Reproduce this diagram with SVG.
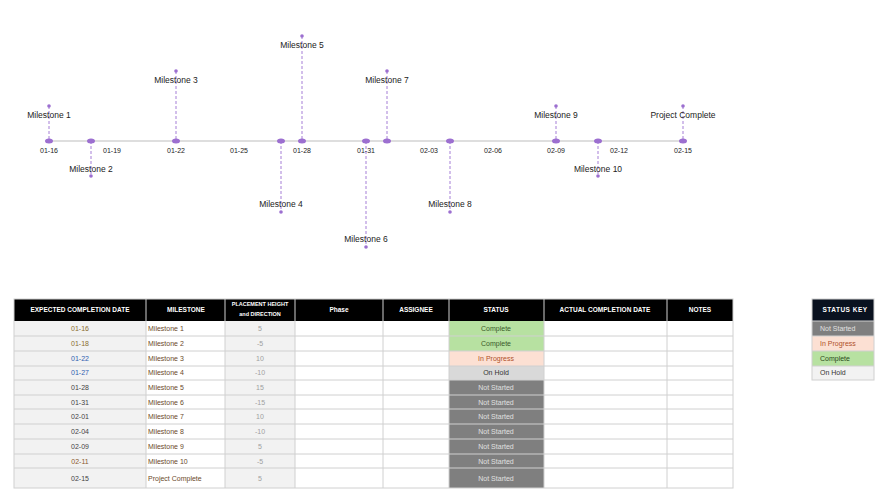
<svg xmlns="http://www.w3.org/2000/svg" width="882" height="501" viewBox="0 0 882 501">
<style>
text{font-family:"Liberation Sans",Arial,sans-serif}
.lbl{font-size:8.5px;fill:#222;text-anchor:middle}
.tick{font-size:7px;fill:#222;text-anchor:middle}
.stem{stroke:#a57fd6;stroke-width:1;stroke-dasharray:3,2}
.dot{fill:#9c6fd0}
.hd{font-size:6.5px;font-weight:bold;fill:#fff;text-anchor:middle}
.c{font-size:7px;text-anchor:middle}
.l{font-size:7px}
.grid{stroke:#d0d0d0;stroke-width:1;fill:none}
</style>
<rect width="882" height="501" fill="#fff"/>
<g id="connectors">
<line x1="49" y1="141" x2="685" y2="141" stroke="#bdbdbd" stroke-width="1.2"/>
<line class="stem" x1="49" y1="106" x2="49" y2="141"/>
<line class="stem" x1="91" y1="141" x2="91" y2="176"/>
<line class="stem" x1="176" y1="71" x2="176" y2="141"/>
<line class="stem" x1="281" y1="141" x2="281" y2="212"/>
<line class="stem" x1="302" y1="36" x2="302" y2="141"/>
<line class="stem" x1="366" y1="141" x2="366" y2="247"/>
<line class="stem" x1="387" y1="71" x2="387" y2="141"/>
<line class="stem" x1="450" y1="141" x2="450" y2="212"/>
<line class="stem" x1="556" y1="106" x2="556" y2="141"/>
<line class="stem" x1="598" y1="141" x2="598" y2="176"/>
<line class="stem" x1="683" y1="106" x2="683" y2="141"/>
</g>
<g id="axis-ticks">
<text class="tick" x="49" y="153">01-16</text><text class="tick" x="112" y="153">01-19</text><text class="tick" x="176" y="153">01-22</text><text class="tick" x="239" y="153">01-25</text><text class="tick" x="302" y="153">01-28</text><text class="tick" x="366" y="153">01-31</text><text class="tick" x="429" y="153">02-03</text><text class="tick" x="493" y="153">02-06</text><text class="tick" x="556" y="153">02-09</text><text class="tick" x="619" y="153">02-12</text><text class="tick" x="683" y="153">02-15</text>
</g>
<g id="m1"><ellipse class="dot" cx="49" cy="141" rx="4" ry="2.5"/><circle class="dot" cx="49" cy="106" r="1.8"/><text class="lbl" x="49" y="118">Milestone 1</text></g>
<g id="m2"><ellipse class="dot" cx="91" cy="141" rx="4" ry="2.5"/><circle class="dot" cx="91" cy="176" r="1.8"/><text class="lbl" x="91" y="172">Milestone 2</text></g>
<g id="m3"><ellipse class="dot" cx="176" cy="141" rx="4" ry="2.5"/><circle class="dot" cx="176" cy="71" r="1.8"/><text class="lbl" x="176" y="83">Milestone 3</text></g>
<g id="m4"><ellipse class="dot" cx="281" cy="141" rx="4" ry="2.5"/><circle class="dot" cx="281" cy="212" r="1.8"/><text class="lbl" x="281" y="207">Milestone 4</text></g>
<g id="m5"><ellipse class="dot" cx="302" cy="141" rx="4" ry="2.5"/><circle class="dot" cx="302" cy="36" r="1.8"/><text class="lbl" x="302" y="48">Milestone 5</text></g>
<g id="m6"><ellipse class="dot" cx="366" cy="141" rx="4" ry="2.5"/><circle class="dot" cx="366" cy="247" r="1.8"/><text class="lbl" x="366" y="242">Milestone 6</text></g>
<g id="m7"><ellipse class="dot" cx="387" cy="141" rx="4" ry="2.5"/><circle class="dot" cx="387" cy="71" r="1.8"/><text class="lbl" x="387" y="83">Milestone 7</text></g>
<g id="m8"><ellipse class="dot" cx="450" cy="141" rx="4" ry="2.5"/><circle class="dot" cx="450" cy="212" r="1.8"/><text class="lbl" x="450" y="207">Milestone 8</text></g>
<g id="m9"><ellipse class="dot" cx="556" cy="141" rx="4" ry="2.5"/><circle class="dot" cx="556" cy="106" r="1.8"/><text class="lbl" x="556" y="118">Milestone 9</text></g>
<g id="m10"><ellipse class="dot" cx="598" cy="141" rx="4" ry="2.5"/><circle class="dot" cx="598" cy="176" r="1.8"/><text class="lbl" x="598" y="172">Milestone 10</text></g>
<g id="m11"><ellipse class="dot" cx="683" cy="141" rx="4" ry="2.5"/><circle class="dot" cx="683" cy="106" r="1.8"/><text class="lbl" x="683" y="118">Project Complete</text></g>

<g id="table">
<rect x="14" y="299" width="719" height="22" fill="#000"/>
<rect x="14" y="321" width="132" height="167" fill="#f2f2f2"/>
<rect x="225" y="321" width="70" height="167" fill="#f2f2f2"/>
<rect x="449" y="321" width="95" height="30" fill="#b7e1a1"/>
<rect x="449" y="351" width="95" height="15" fill="#fce0d3"/>
<rect x="449" y="366" width="95" height="14" fill="#d9d9d9"/>
<rect x="449" y="380" width="95" height="108" fill="#7f7f7f"/>
<g class="grid">
<rect x="14" y="299" width="719" height="189"/>
<path d="M146 299V488M225 299V488M295 299V488M383 299V488M449 299V488M544 299V488M667 299V488"/>
<path d="M14 336H733M14 351H733M14 366H733M14 380H733M14 395H733M14 409H733M14 424H733M14 439H733M14 454H733M14 468H733"/>
</g>
<text class="hd" x="80" y="312">EXPECTED COMPLETION DATE</text>
<text class="hd" x="186" y="312">MILESTONE</text>
<text class="hd" x="260" y="306" style="font-size:5.5px">PLACEMENT HEIGHT</text>
<text class="hd" x="260" y="316" style="font-size:5.5px">and DIRECTION</text>
<text class="hd" x="339" y="312">Phase</text>
<text class="hd" x="416" y="312">ASSIGNEE</text>
<text class="hd" x="496" y="312">STATUS</text>
<text class="hd" x="605" y="312">ACTUAL COMPLETION DATE</text>
<text class="hd" x="700" y="312">NOTES</text>
<g class="c">
<text x="80" y="331" fill="#8a6d2e">01-16</text><text x="80" y="346" fill="#8a6d2e">01-18</text><text x="80" y="361" fill="#3060b0">01-22</text><text x="80" y="375" fill="#3060b0">01-27</text><text x="80" y="390" fill="#444">01-28</text><text x="80" y="405" fill="#444">01-31</text><text x="80" y="419" fill="#444">02-01</text><text x="80" y="434" fill="#444">02-04</text><text x="80" y="449" fill="#444">02-09</text><text x="80" y="464" fill="#8a5a2e">02-11</text><text x="80" y="481" fill="#444">02-15</text>
</g>
<g class="l" fill="#6b4a2a">
<text x="148" y="331">Milestone 1</text><text x="148" y="346">Milestone 2</text><text x="148" y="361">Milestone 3</text><text x="148" y="375">Milestone 4</text><text x="148" y="390">Milestone 5</text><text x="148" y="405">Milestone 6</text><text x="148" y="419">Milestone 7</text><text x="148" y="434">Milestone 8</text><text x="148" y="449">Milestone 9</text><text x="148" y="464">Milestone 10</text><text x="148" y="481">Project Complete</text>
</g>
<g class="c" fill="#a0a0a0">
<text x="260" y="331">5</text><text x="260" y="346">-5</text><text x="260" y="361">10</text><text x="260" y="375">-10</text><text x="260" y="390">15</text><text x="260" y="405">-15</text><text x="260" y="419">10</text><text x="260" y="434">-10</text><text x="260" y="449">5</text><text x="260" y="464">-5</text><text x="260" y="481">5</text>
</g>
<g class="c">
<text x="496" y="331" fill="#3a5a2a">Complete</text><text x="496" y="346" fill="#3a5a2a">Complete</text><text x="496" y="361" fill="#b0502a">In Progress</text><text x="496" y="375" fill="#333">On Hold</text>
<g fill="#e0e0e0"><text x="496" y="390">Not Started</text><text x="496" y="405">Not Started</text><text x="496" y="419">Not Started</text><text x="496" y="434">Not Started</text><text x="496" y="449">Not Started</text><text x="496" y="464">Not Started</text><text x="496" y="481">Not Started</text></g>
</g>
</g>
<g id="status-key">
<rect x="812" y="299" width="62" height="22" fill="#0a1220"/>
<rect x="812" y="321" width="62" height="15" fill="#7f7f7f"/>
<rect x="812" y="336" width="62" height="15" fill="#fce0d3"/>
<rect x="812" y="351" width="62" height="15" fill="#b7e1a1"/>
<rect x="812" y="366" width="62" height="14" fill="#f2f2f2"/>
<g class="grid"><rect x="812" y="299" width="62" height="81"/><path d="M812 321H874M812 336H874M812 351H874M812 366H874"/></g>
<text class="hd" x="845" y="312" style="letter-spacing:0.5px">STATUS KEY</text>
<text class="l" x="820" y="331" fill="#e0e0e0">Not Started</text>
<text class="l" x="820" y="346" fill="#b0502a">In Progress</text>
<text class="l" x="820" y="361" fill="#2a4a1a">Complete</text>
<text class="l" x="820" y="375" fill="#333">On Hold</text>
</g>
</svg>
